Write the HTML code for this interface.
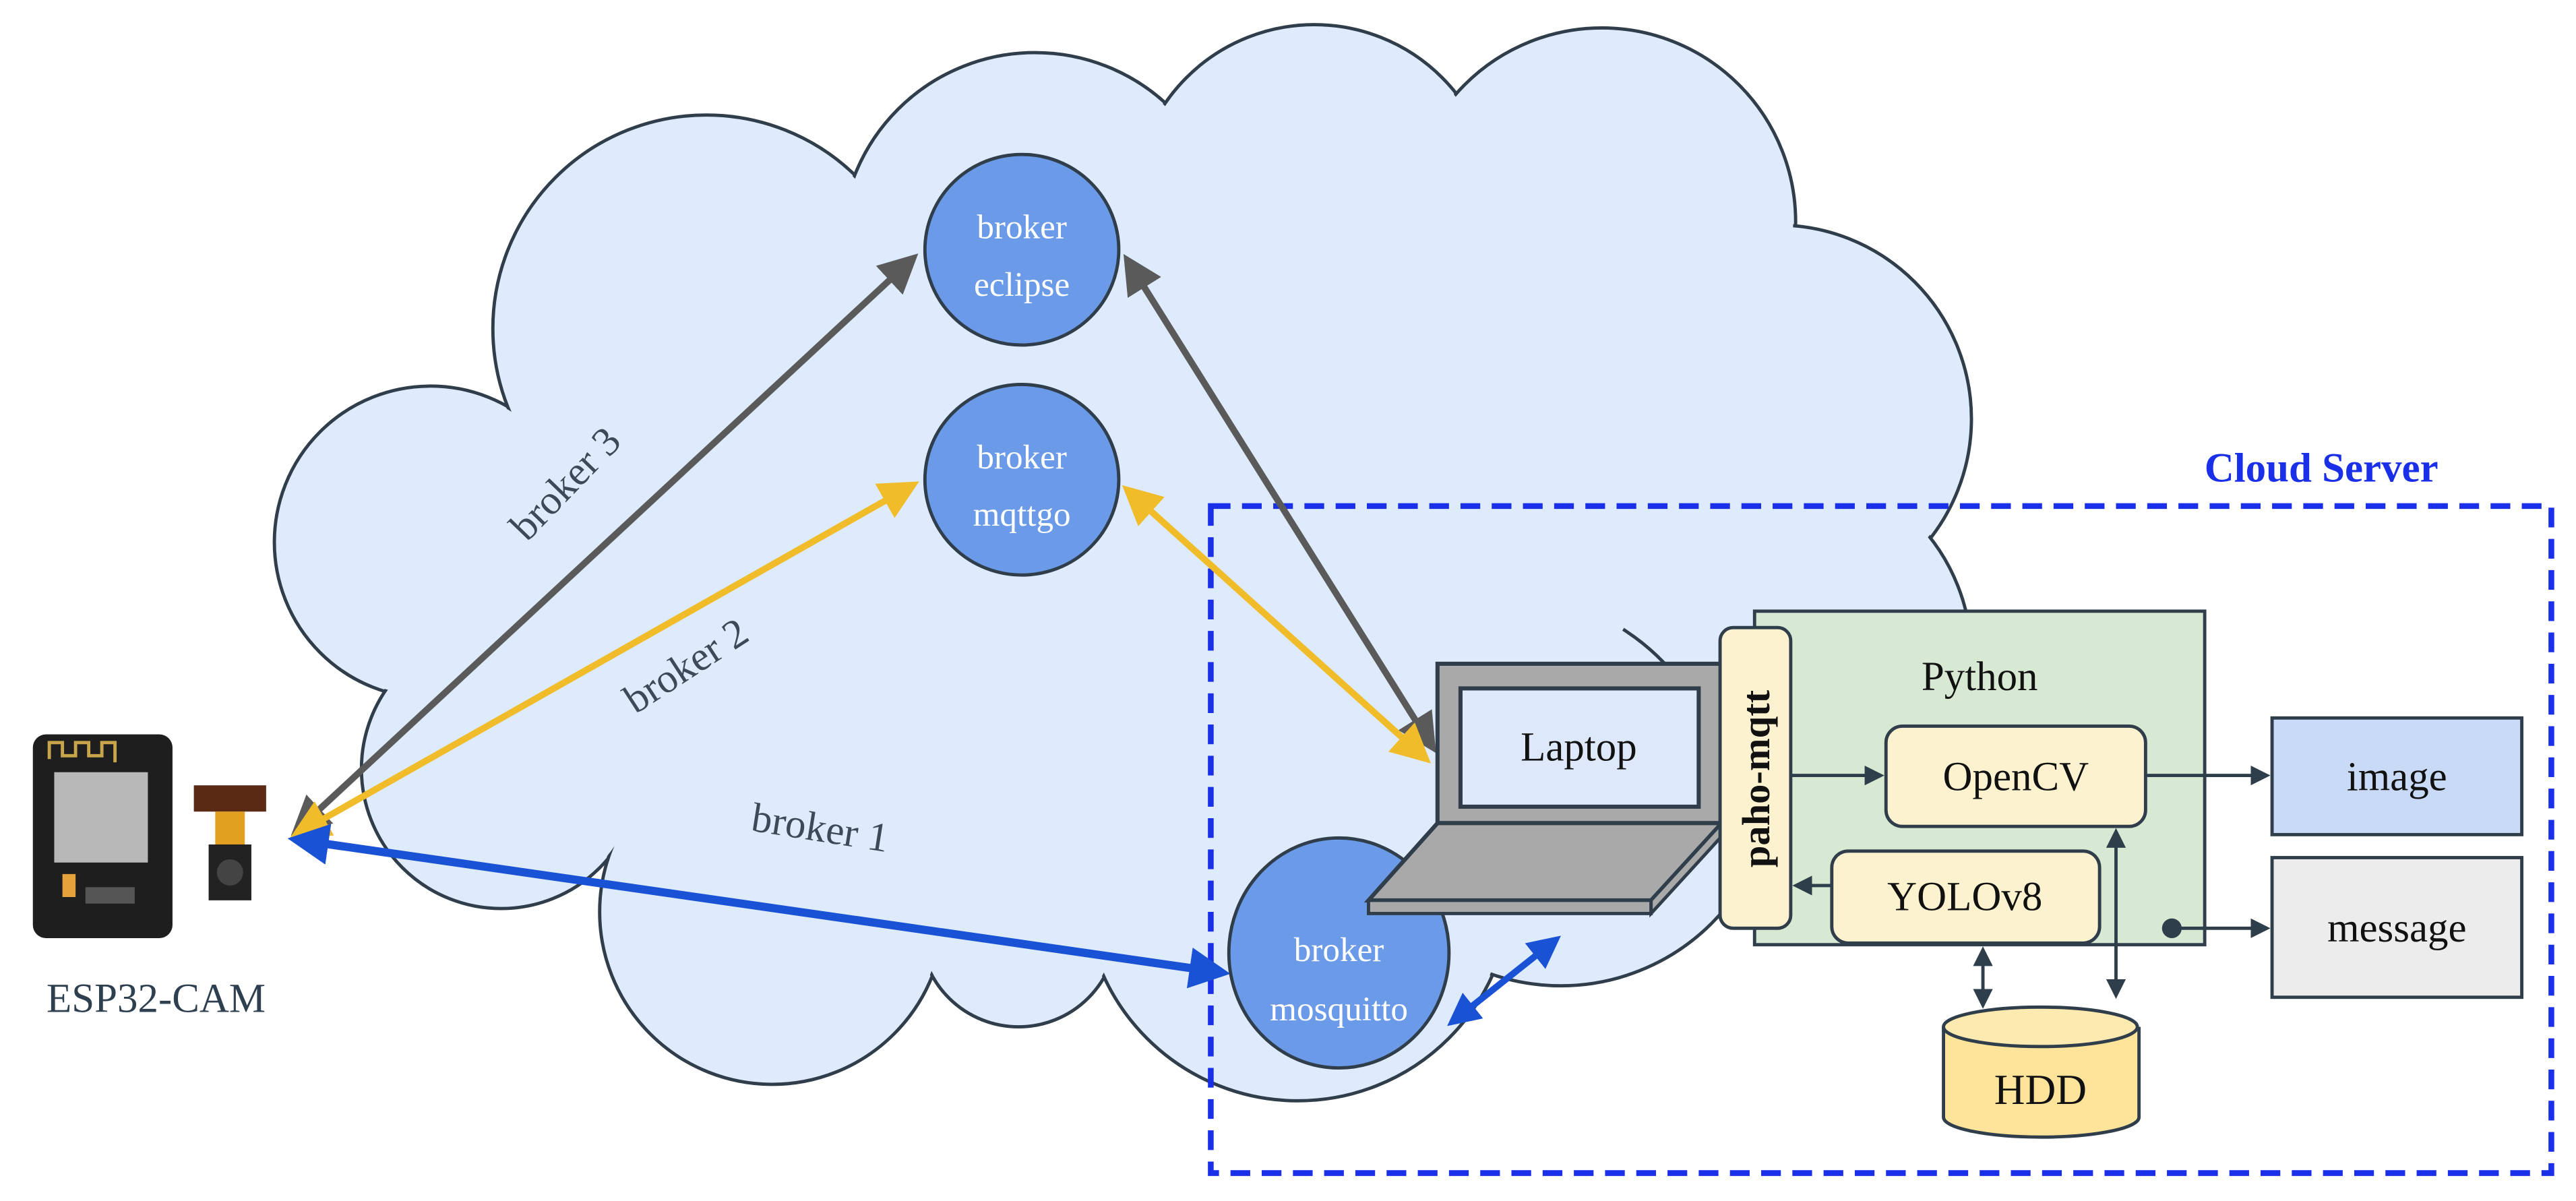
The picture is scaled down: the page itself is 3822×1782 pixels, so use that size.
<!DOCTYPE html>
<html><head><meta charset="utf-8"><style>
html,body{margin:0;padding:0;background:#fff;}
svg{display:block;}
text{font-family:"Liberation Serif",serif;}
</style></head><body>
<svg width="3822" height="1782" viewBox="0 0 1568 731" preserveAspectRatio="none" xmlns="http://www.w3.org/2000/svg">
<defs>
<marker id="ag" markerWidth="6" markerHeight="6" refX="5" refY="3" orient="auto-start-reverse" markerUnits="strokeWidth"><path d="M0,0 L6,3 L0,6 z" fill="#5a5a5a"/></marker>
<marker id="ay" markerWidth="6" markerHeight="6" refX="5" refY="3" orient="auto-start-reverse" markerUnits="strokeWidth"><path d="M0,0 L6,3 L0,6 z" fill="#f0bc2a"/></marker>
<marker id="ab" markerWidth="5" markerHeight="5" refX="4" refY="2.5" orient="auto-start-reverse" markerUnits="strokeWidth"><path d="M0,0 L5,2.5 L0,5 z" fill="#1a52d6"/></marker>
<marker id="ad" markerWidth="6" markerHeight="6" refX="5" refY="3" orient="auto-start-reverse" markerUnits="strokeWidth"><path d="M0,0 L6,3 L0,6 z" fill="#2e3e4a"/></marker>
</defs>
<!-- cloud -->
<g stroke="#2f3e4a" stroke-width="2" fill="#deebfc">
<circle cx="262" cy="330" r="95"/>
<circle cx="305" cy="468" r="85"/>
<circle cx="430" cy="200" r="130"/>
<circle cx="470" cy="555" r="105"/>
<circle cx="620" cy="565" r="60"/>
<circle cx="630" cy="150" r="118"/>
<circle cx="800" cy="125" r="110"/>
<circle cx="975" cy="135" r="118"/>
<circle cx="1082" cy="255" r="118"/>
<circle cx="1082" cy="400" r="118"/>
<circle cx="790" cy="540" r="130"/>
<circle cx="950" cy="470" r="130"/>
</g>
<g fill="#deebfc">
<circle cx="262" cy="330" r="93.5"/>
<circle cx="305" cy="468" r="83.5"/>
<circle cx="430" cy="200" r="128.5"/>
<circle cx="470" cy="555" r="103.5"/>
<circle cx="620" cy="565" r="58.5"/>
<circle cx="630" cy="150" r="116.5"/>
<circle cx="800" cy="125" r="108.5"/>
<circle cx="975" cy="135" r="116.5"/>
<circle cx="1082" cy="255" r="116.5"/>
<circle cx="1082" cy="400" r="116.5"/>
<circle cx="790" cy="540" r="128.5"/>
<circle cx="950" cy="470" r="128.5"/>
<polygon points="262,330 305,468 470,555 573,556 662,542 790,540 950,470 1082,400 1082,255 975,135 800,125 630,150 430,200"/>
</g>
<path d="M988,383 Q1030,410 1045,460" fill="none" stroke="#2f3e4a" stroke-width="2"/>
<!-- cloud server -->
<rect x="737" y="308" width="816" height="406" fill="none" stroke="#1a2fe8" stroke-width="3.5" stroke-dasharray="12,7"/>
<text x="1413" y="293" font-size="25" font-weight="bold" fill="#1a2fe8" text-anchor="middle">Cloud Server</text>
<!-- arrows to brokers -->
<line x1="180" y1="506" x2="556" y2="157" stroke="#5a5a5a" stroke-width="4" marker-start="url(#ag)" marker-end="url(#ag)"/>
<line x1="686" y1="158" x2="872" y2="455" stroke="#5a5a5a" stroke-width="4" marker-start="url(#ag)" marker-end="url(#ag)"/>
<line x1="180" y1="508" x2="556" y2="295" stroke="#f0bc2a" stroke-width="4" marker-start="url(#ay)" marker-end="url(#ay)"/>
<line x1="686" y1="298" x2="868" y2="462" stroke="#f0bc2a" stroke-width="4" marker-start="url(#ay)" marker-end="url(#ay)"/>
<line x1="180" y1="511" x2="744" y2="592" stroke="#1a52d6" stroke-width="5" marker-start="url(#ab)" marker-end="url(#ab)"/>
<line x1="884" y1="622" x2="947" y2="572" stroke="#1a52d6" stroke-width="4" marker-start="url(#ab)" marker-end="url(#ab)"/>
<text transform="translate(350,300) rotate(-46)" font-size="25" fill="#3c4a57" text-anchor="middle">broker 3</text>
<text transform="translate(422,412) rotate(-33)" font-size="25" fill="#3c4a57" text-anchor="middle">broker 2</text>
<text transform="translate(498,512) rotate(9)" font-size="25" fill="#3c4a57" text-anchor="middle">broker 1</text>
<!-- brokers -->
<g stroke="#2f3e4a" stroke-width="2" fill="#6b9be8">
<ellipse cx="622" cy="152" rx="59" ry="58"/>
<ellipse cx="622" cy="292" rx="59" ry="58"/>
<ellipse cx="815" cy="580" rx="67" ry="70"/>
</g>
<g fill="#fff" font-size="21" text-anchor="middle">
<text x="622" y="145">broker</text><text x="622" y="180">eclipse</text>
<text x="622" y="285">broker</text><text x="622" y="320">mqttgo</text>
<text x="815" y="585">broker</text><text x="815" y="621">mosquitto</text>
</g>
<!-- ESP32 -->
<rect x="20" y="447" width="85" height="124" rx="8" fill="#1e1e1e"/>
<path d="M30,462 v-10 h8 v8 h8 v-8 h8 v8 h8 v-8 h8 v12" fill="none" stroke="#c8a54a" stroke-width="2"/>
<rect x="33" y="470" width="57" height="55" fill="#b8b8b8"/>
<rect x="38" y="532" width="8" height="14" fill="#e6a23a"/>
<rect x="52" y="540" width="30" height="10" fill="#555"/>
<rect x="118" y="478" width="44" height="16" fill="#5a2a14"/>
<rect x="131" y="494" width="18" height="20" fill="#e2a020"/>
<rect x="127" y="514" width="26" height="34" fill="#222"/>
<circle cx="140" cy="531" r="8" fill="#444"/>
<text x="95" y="616" font-size="25" fill="#2e4050" text-anchor="middle">ESP32-CAM</text>
<!-- laptop -->
<rect x="875" y="404" width="173" height="97" fill="#a9a9a9" stroke="#2f3e4a" stroke-width="2.5"/>
<rect x="889" y="419" width="145" height="72" fill="#dde9fb" stroke="#2f3e4a" stroke-width="2.5"/>
<text x="961" y="463" font-size="25" fill="#111" text-anchor="middle">Laptop</text>
<polygon points="875,501 1048,501 1005,548 833,548" fill="#a9a9a9" stroke="#2f3e4a" stroke-width="2.5"/>
<polygon points="833,548 1005,548 1005,556 833,556" fill="#a9a9a9" stroke="#2f3e4a" stroke-width="2"/>
<polygon points="1005,548 1048,501 1048,509 1005,556" fill="#a9a9a9" stroke="#2f3e4a" stroke-width="2"/>
<!-- python -->
<rect x="1068" y="372" width="274" height="203" fill="#d7e9d3" stroke="#2f3e4a" stroke-width="2"/>
<text x="1205" y="420" font-size="25" fill="#111" text-anchor="middle">Python</text>
<rect x="1047" y="382" width="43" height="183" rx="8" fill="#fdf2cf" stroke="#2f3e4a" stroke-width="2"/>
<text transform="translate(1077,474) rotate(-90)" font-size="24" font-weight="bold" fill="#111" text-anchor="middle">paho-mqtt</text>
<rect x="1148" y="442" width="158" height="61" rx="10" fill="#fdf2cf" stroke="#2f3e4a" stroke-width="2"/>
<text x="1227" y="481" font-size="25" fill="#111" text-anchor="middle">OpenCV</text>
<rect x="1115" y="518" width="163" height="56" rx="10" fill="#fdf2cf" stroke="#2f3e4a" stroke-width="2"/>
<text x="1196" y="554" font-size="25" fill="#111" text-anchor="middle">YOLOv8</text>
<rect x="1383" y="437" width="152" height="71" fill="#c8daf6" stroke="#2f3e4a" stroke-width="2"/>
<text x="1459" y="481" font-size="25" fill="#111" text-anchor="middle">image</text>
<rect x="1383" y="522" width="152" height="85" fill="#ececec" stroke="#2f3e4a" stroke-width="2"/>
<text x="1459" y="573" font-size="25" fill="#111" text-anchor="middle">message</text>
<!-- HDD -->
<path d="M1183,625 v55 a59,12 0 0 0 119,0 v-55" fill="#fde49a" stroke="#2f3e4a" stroke-width="2"/>
<ellipse cx="1242" cy="625" rx="59" ry="12" fill="#fdeab0" stroke="#2f3e4a" stroke-width="2"/>
<text x="1242" y="672" font-size="26" fill="#111" text-anchor="middle">HDD</text>
<!-- internal arrows -->
<g stroke="#2e3e4a" stroke-width="2" fill="none">
<line x1="1090" y1="472" x2="1145" y2="472" marker-end="url(#ad)"/>
<line x1="1306" y1="472" x2="1380" y2="472" marker-end="url(#ad)"/>
<line x1="1115" y1="539" x2="1093" y2="539" marker-end="url(#ad)"/>
<line x1="1322" y1="565" x2="1380" y2="565" marker-end="url(#ad)"/>
<line x1="1207" y1="578" x2="1207" y2="612" marker-start="url(#ad)" marker-end="url(#ad)"/>
<line x1="1288" y1="506" x2="1288" y2="606" marker-start="url(#ad)" marker-end="url(#ad)"/>
</g>
<circle cx="1322" cy="565" r="6" fill="#2e3e4a"/>
</svg>
</body></html>
